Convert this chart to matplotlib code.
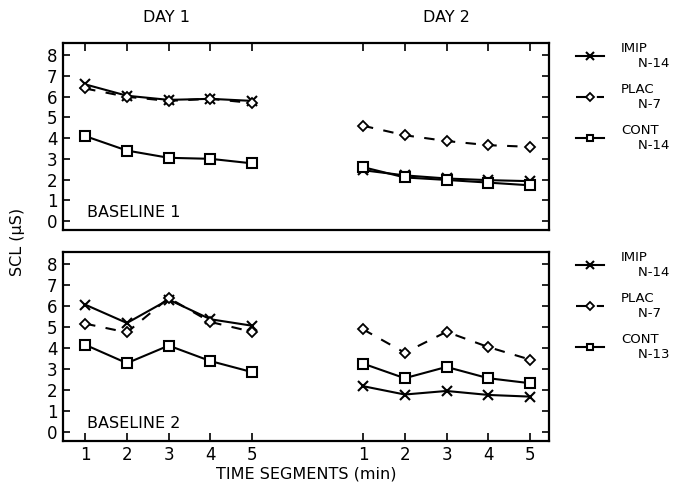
import numpy as np
import matplotlib
matplotlib.use("Agg")
import matplotlib.pyplot as plt

# =============================================================================
# DATA
# =============================================================================
segments = [1, 2, 3, 4, 5]
day1_pos = [1, 2, 3, 4, 5]
day2_pos = [7.65, 8.65, 9.65, 10.65, 11.65]

# Baseline 1
b1_imip_d1 = [6.6, 6.05, 5.85, 5.9, 5.8]
b1_plac_d1 = [6.4, 6.0, 5.8, 5.9, 5.7]
b1_cont_d1 = [4.1, 3.4, 3.05, 3.0, 2.78]
b1_imip_d2 = [2.45, 2.2, 2.05, 1.97, 1.92]
b1_plac_d2 = [4.6, 4.14, 3.86, 3.66, 3.58]
b1_cont_d2 = [2.6, 2.1, 1.98, 1.85, 1.72]

# Baseline 2
b2_imip_d1 = [6.08, 5.2, 6.32, 5.38, 5.07]
b2_plac_d1 = [5.17, 4.75, 6.4, 5.25, 4.78]
b2_cont_d1 = [4.16, 3.28, 4.12, 3.38, 2.85]
b2_imip_d2 = [2.18, 1.78, 1.95, 1.76, 1.68]
b2_plac_d2 = [4.9, 3.78, 4.78, 4.05, 3.45]
b2_cont_d2 = [3.26, 2.56, 3.1, 2.56, 2.32]

n_labels_b1 = ["N-14", "N-7", "N-14"]
n_labels_b2 = ["N-14", "N-7", "N-13"]
panel_names = ["BASELINE 1", "BASELINE 2"]
groups = ["IMIP", "PLAC", "CONT"]

plt.rcParams['font.family'] = ['DejaVu Sans']

fig = plt.figure(figsize=(6.81, 4.94), dpi=100)
ax1 = fig.add_axes([0.0925, 0.534, 0.7135, 0.379])
ax2 = fig.add_axes([0.0925, 0.107, 0.7135, 0.383])

panels = [
    (ax1, [b1_imip_d1, b1_plac_d1, b1_cont_d1], [b1_imip_d2, b1_plac_d2, b1_cont_d2], n_labels_b1),
    (ax2, [b2_imip_d1, b2_plac_d1, b2_cont_d1], [b2_imip_d2, b2_plac_d2, b2_cont_d2], n_labels_b2),
]

styles = [
    dict(marker='x', linestyle='-', markersize=7.5, markeredgewidth=1.5),
    dict(marker='D', linestyle=(0, (5, 5)), markersize=5.5, markerfacecolor='white', markeredgewidth=1.3),
    dict(marker='s', linestyle='-', markersize=7, markerfacecolor='white', markeredgewidth=1.5),
]

for i, (ax, d1, d2, nlab) in enumerate(panels):
    handles = []
    for vals1, vals2, st in zip(d1, d2, styles):
        h, = ax.plot(day1_pos, vals1, color='black', linewidth=1.5, **st)
        ax.plot(day2_pos, vals2, color='black', linewidth=1.5, **st)
        handles.append(h)

    ax.set_xlim(0.47, 12.1)
    ax.set_ylim(-0.45, 8.6)
    ax.set_yticks(range(0, 9))
    ax.set_xticks(day1_pos + day2_pos)
    ax.tick_params(axis='y', direction='in', left=True, right=True, length=5,
                   labelsize=12, width=1.2, pad=4)
    ax.tick_params(axis='x', direction='in', length=6, width=1.2, labelsize=12)
    if i == 0:
        ax.tick_params(axis='x', top=True, bottom=False, labelbottom=False)
    else:
        ax.tick_params(axis='x', top=False, bottom=True)
        ax.set_xticklabels([str(s) for s in segments] * 2)
    for sp in ax.spines.values():
        sp.set_linewidth(1.6)

    ax.text(1.05, 0.05, panel_names[i], fontsize=11.5, ha='left', va='bottom')

    labels = [f"{g}\n    {n}" for g, n in zip(groups, nlab)]
    ax.legend(handles, labels, loc='upper left', bbox_to_anchor=(1.045, 1.035),
              frameon=False, fontsize=9.5, handlelength=2.1, labelspacing=1.0,
              handletextpad=1.3, borderaxespad=0, markerscale=0.7)

ax2.set_xlabel("TIME SEGMENTS (min)", fontsize=11.5, labelpad=2)
fig.text(0.025, 0.51, "SCL (\u03bcS)", rotation=90, ha='center', va='center', fontsize=11.5)
fig.text(0.245, 0.965, "DAY 1", ha='center', va='center', fontsize=11.5)
fig.text(0.655, 0.965, "DAY 2", ha='center', va='center', fontsize=11.5)

fig.savefig("out.png", dpi=100)
